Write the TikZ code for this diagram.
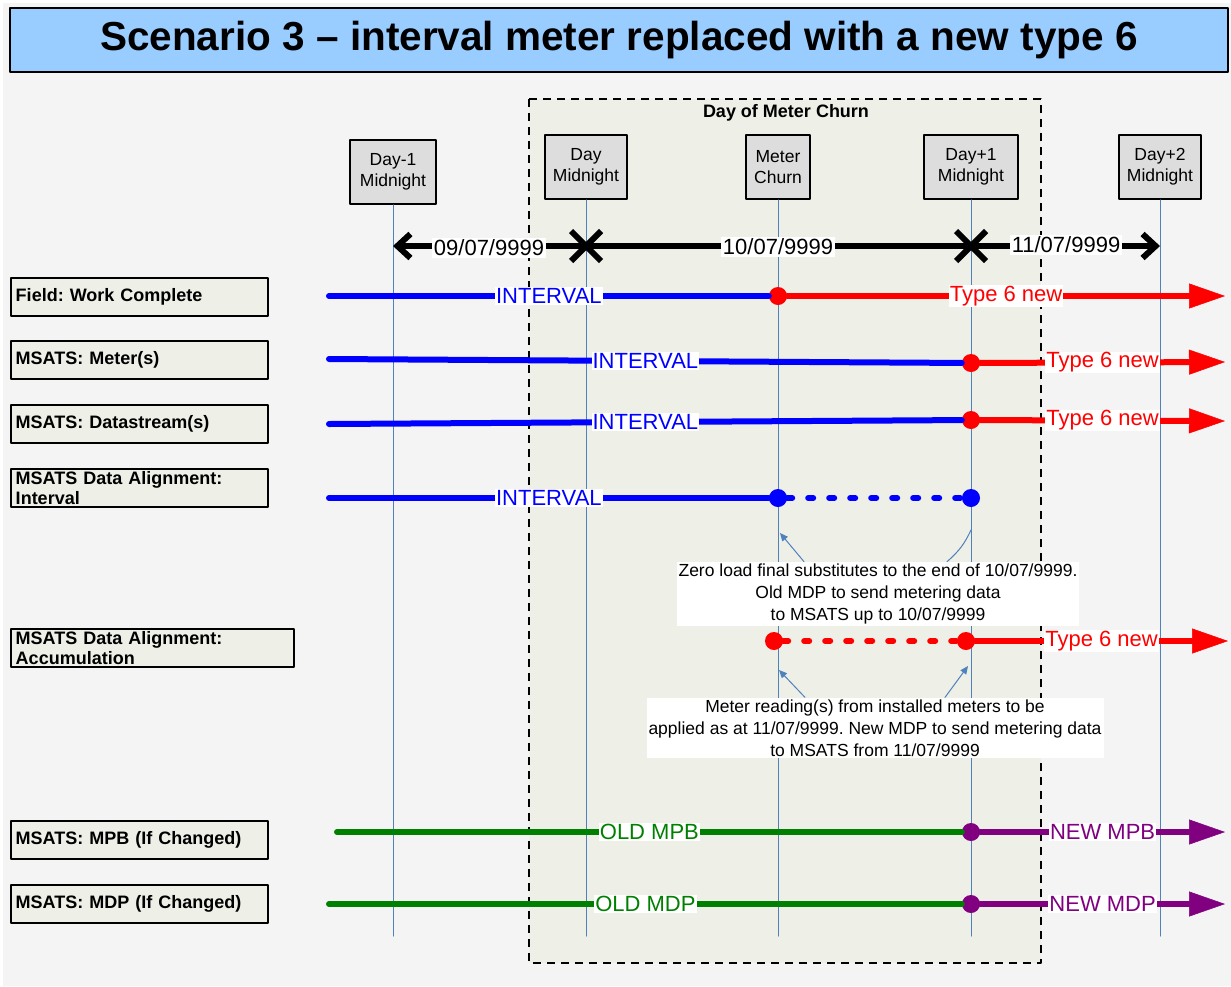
\documentclass[tikz,border=0pt]{standalone}
\usepackage{fontspec}
\setmainfont{Liberation Sans}
\usetikzlibrary{arrows.meta}
\frenchspacing

\definecolor{bgGrey}{HTML}{F5F4F5}
\definecolor{churnFill}{HTML}{EEEFE7}
\definecolor{timeFill}{HTML}{DDDDDD}
\definecolor{titleBlue}{HTML}{99CCFF}
\definecolor{vBlue}{HTML}{4F81BD}
\definecolor{mGreen}{HTML}{008000}
\definecolor{mPurple}{HTML}{800080}

\begin{document}
\begin{tikzpicture}[x=1pt,y=-1pt,line cap=round,line join=round,
  >={Triangle[length=8pt,width=7pt]},
  titlebox/.style={draw=black,line width=1.5pt,fill=titleBlue,minimum width=1218pt,minimum height=64pt,
    inner sep=0pt,font=\fontsize{40.5}{44}\selectfont\bfseries},
  churnbox/.style={draw=black,line width=1.5pt,fill=churnFill,dash pattern=on 8pt off 6pt,line cap=butt},
  timebox/.style={draw=black,line width=1.5pt,fill=timeFill,minimum width=84pt,minimum height=64pt,
    align=center,inner sep=0pt,font=\fontsize{17.5}{21}\selectfont},
  rowlbl/.style={draw=black,line width=1.5pt,fill=churnFill,anchor=north west,minimum height=38pt,
    text width=#1,align=left,inner xsep=5pt,inner ysep=0pt,font=\fontsize{18}{20}\selectfont\bfseries},
  rowlbl/.default=247pt,
  vline/.style={draw=vBlue,line width=1pt},
  dateline/.style={line width=6pt,{Straight Barb[length=13pt,width=24pt]}-{Straight Barb[length=13pt,width=24pt]}},
  xmark/.style={line width=6pt,line cap=butt},
  datelbl/.style={fill=white,inner sep=1.5pt,font=\fontsize{22}{24}\selectfont},
  track/.style={line width=6pt},
  fat/.style={-{Triangle[length=36pt,width=25pt,line width=0.5pt]}},
  dashtrack/.style={dash pattern=on 5pt off 16pt},
  tlbl/.style={fill=white,inner sep=1pt,font=\fontsize{22}{24}\selectfont},
  bigdot/.style={circle,fill=#1,minimum size=18pt,inner sep=0pt},
  note/.style={fill=white,align=center,inner sep=2pt,font=\fontsize{17.5}{22}\selectfont},
  callout/.style={draw=vBlue,line width=1pt}]

\fill[white] (0,0) rectangle (1231,986);
\fill[bgGrey] (3,3) rectangle (1231,986);

\node[titlebox] (title) at (619,40) {Scenario 3 -- interval meter replaced with a new type 6};

\draw[churnbox] (529,99) rectangle (1041,963);
\node[font=\fontsize{18}{20}\selectfont\bfseries] (churn) at (786,113) {Day of Meter Churn};

\node[timebox,minimum width=86pt] (dm1) at (393,172) {Day-1\\Midnight};
\node[timebox,minimum width=82pt] (d0) at (586,167) {Day\\Midnight};
\node[timebox,minimum width=64pt] (mc) at (778,167) {Meter\\Churn};
\node[timebox,minimum width=94pt] (dp1) at (971,167) {Day+1\\Midnight};
\node[timebox,minimum width=82pt] (dp2) at (1160,167) {Day+2\\Midnight};

\coordinate (bot) at (0,936);
\foreach \t in {dm1,d0,mc,dp1,dp2}
  \draw[vline] (\t.south) -- (\t |- bot);

% dates
\coordinate (dl) at (0,246);
\draw[dateline] (dm1 |- dl) -- (dp2 |- dl);
\foreach \t in {d0,dp1}
  \draw[xmark] (\t |- dl) ++(-15,-15) -- ++(30,30) ++(0,-30) -- ++(-30,30);
\node[datelbl] (dt1) at (489,248) {09/07/9999};
\node[datelbl] (dt2) at (778,247) {10/07/9999};
\node[datelbl] (dt3) at (1066,245) {11/07/9999};

% row labels
\node[rowlbl] (r1) at (10,277) {Field: Work Complete};
\node[rowlbl] (r2) at (10,340) {MSATS: Meter(s)};
\node[rowlbl] (r3) at (10,404) {MSATS: Datastream(s)};
\node[rowlbl] (r4) at (10,468) {MSATS Data Alignment:\\Interval};
\node[rowlbl=273pt] (r5) at (10,628) {MSATS Data Alignment:\\Accumulation};
\node[rowlbl] (r6) at (10,820) {MSATS: MPB (If Changed)};
\node[rowlbl] (r7) at (10,884) {MSATS: MDP (If Changed)};

% notes
\node[note] (n1) at (878,594) {Zero load final substitutes to the end of 10/07/9999.\\Old MDP to send metering data\\to MSATS up to 10/07/9999};
\node[note] (n2) at (875,728) {Meter reading(s) from installed meters to be\\applied as at 11/07/9999. New MDP to send metering data\\to MSATS from 11/07/9999};
\coordinate (c1) at (780,533);
\coordinate (c2) at (971,530);
\coordinate (c3) at (779,670);
\coordinate (c4) at (968,666);
\draw[callout,->] ([xshift=-74pt]n1.north) -- (c1);
\draw[callout] ([xshift=69pt]n1.north) to[bend right=12] (c2);
\draw[callout,->] ([xshift=-70pt]n2.north) -- (c3);
\draw[callout,->] ([xshift=70pt]n2.north) -- (c4);

% row 1
\coordinate (s1) at (329,296);
\coordinate (e1) at (1225,296);
\node[bigdot=red] (p1) at (mc |- s1) {};
\draw[track,blue] (s1) -- (p1) node[tlbl,text=blue,midway] {INTERVAL};
\draw[track,red,fat] (p1) -- (e1) node[tlbl,text=red,midway] {Type 6 new};

% row 2
\coordinate (s2) at (329,359);
\coordinate (e2) at (1225,362);
\node[bigdot=red] (p2) at (971,363) {};
\draw[track,blue] (s2) -- (p2) node[tlbl,text=blue,midway] {INTERVAL};
\draw[track,red,fat] (p2) -- (e2) node[tlbl,text=red,midway] {Type 6 new};

% row 3
\coordinate (s3) at (329,424);
\coordinate (e3) at (1225,421);
\node[bigdot=red] (p3) at (971,420) {};
\draw[track,blue] (s3) -- (p3) node[tlbl,text=blue,midway] {INTERVAL};
\draw[track,red,fat] (p3) -- (e3) node[tlbl,text=red,midway] {Type 6 new};

% row 4
\coordinate (s4) at (329,498);
\node[bigdot=blue] (p4a) at (mc |- s4) {};
\node[bigdot=blue] (p4b) at (dp1 |- s4) {};
\draw[track,blue] (s4) -- (p4a) node[tlbl,text=blue,midway] {INTERVAL};
\draw[track,blue,dashtrack] (p4a) -- (p4b);

% row 5
\coordinate (e5) at (1228,641);
\node[bigdot=red] (p5a) at (774,641) {};
\node[bigdot=red] (p5b) at (966,641) {};
\draw[track,red,dashtrack] (p5a) -- (p5b);
\draw[track,red,fat] (p5b) -- (e5) node[tlbl,text=red,midway] {Type 6 new};

% row 6
\coordinate (s6) at (337,832);
\coordinate (e6) at (1225,832);
\node[bigdot=mPurple] (p6) at (dp1 |- s6) {};
\draw[track,mGreen] (s6) -- (p6) node[tlbl,text=mGreen,midway] {OLD MPB};
\draw[track,mPurple,fat] (p6) -- (e6) node[tlbl,text=mPurple,midway] {NEW MPB};

% row 7
\coordinate (s7) at (329,904);
\coordinate (e7) at (1225,904);
\node[bigdot=mPurple] (p7) at (dp1 |- s7) {};
\draw[track,mGreen] (s7) -- (p7) node[tlbl,text=mGreen,midway] {OLD MDP};
\draw[track,mPurple,fat] (p7) -- (e7) node[tlbl,text=mPurple,midway] {NEW MDP};

\end{tikzpicture}
\end{document}
